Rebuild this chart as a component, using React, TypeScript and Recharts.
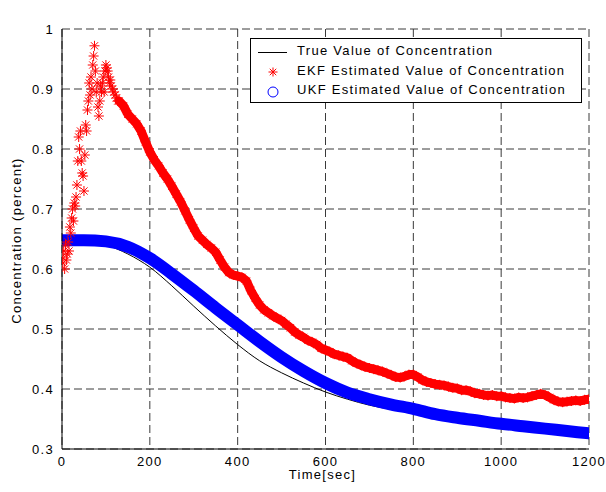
import React from 'react';
import { ComposedChart, Line, Scatter, XAxis, YAxis, CartesianGrid, Legend, Label } from 'recharts';

// ---- data ----
const xTicks = [0, 200, 400, 600, 800, 1000, 1200];
const yTicks = [0.3, 0.4, 0.5, 0.6, 0.7, 0.8, 0.9, 1];

const sampleTimes = [0, 50, 100, 150, 200, 250, 300, 350, 400, 450, 500, 550, 600, 650, 700, 750, 800, 850, 900, 950, 1000, 1050, 1100, 1150, 1200];
const trueValues = [0.648, 0.647, 0.64, 0.625, 0.603, 0.572, 0.538, 0.505, 0.474, 0.447, 0.427, 0.41, 0.395, 0.383, 0.373, 0.366, 0.36, 0.353, 0.348, 0.343, 0.339, 0.335, 0.331, 0.328, 0.324];
const ukfValues = [0.648, 0.648, 0.646, 0.637, 0.618, 0.592, 0.564, 0.535, 0.507, 0.479, 0.453, 0.43, 0.41, 0.394, 0.383, 0.374, 0.367, 0.358, 0.352, 0.347, 0.342, 0.338, 0.334, 0.33, 0.326];

// EKF early transient (scattered estimates)
const ekfEarly: [number, number][] = [
  [0, 0.62], [2, 0.61], [4, 0.63], [6, 0.6], [8, 0.64], [10, 0.615], [12, 0.625], [14, 0.645], [16, 0.63], [18, 0.67],
  [20, 0.66], [22, 0.685], [24, 0.7], [26, 0.68], [28, 0.71], [30, 0.705], [32, 0.72], [34, 0.74], [36, 0.78], [38, 0.82],
  [40, 0.8], [42, 0.83], [44, 0.78], [46, 0.76], [48, 0.755], [50, 0.73], [52, 0.79], [54, 0.84], [56, 0.83], [58, 0.865],
  [60, 0.88], [62, 0.91], [64, 0.89], [66, 0.92], [68, 0.9], [70, 0.94], [72, 0.955], [74, 0.972], [76, 0.93], [78, 0.895],
  [80, 0.91], [82, 0.87], [84, 0.855], [86, 0.88], [88, 0.905], [90, 0.895], [92, 0.91], [94, 0.92], [96, 0.895], [98, 0.93],
  [100, 0.94], [102, 0.935], [104, 0.93], [106, 0.92], [108, 0.91], [110, 0.915], [112, 0.905], [115, 0.9], [118, 0.895], [121, 0.89],
  [124, 0.885], [127, 0.88],
];

// EKF settled decay
const ekfMain: [number, number][] = [
  [130, 0.88], [140, 0.872], [150, 0.858], [160, 0.85], [170, 0.842], [180, 0.83], [190, 0.812], [200, 0.795], [210, 0.782], [220, 0.772],
  [230, 0.76], [240, 0.75], [250, 0.738], [260, 0.725], [270, 0.712], [280, 0.697], [290, 0.682], [300, 0.668], [310, 0.655], [320, 0.648],
  [330, 0.641], [340, 0.635], [350, 0.628], [360, 0.615], [370, 0.603], [380, 0.594], [390, 0.59], [400, 0.588], [410, 0.586], [420, 0.58],
  [430, 0.564], [440, 0.551], [450, 0.54], [460, 0.532], [470, 0.527], [480, 0.522], [490, 0.518], [500, 0.514], [510, 0.508], [520, 0.502],
  [530, 0.495], [540, 0.49], [550, 0.486], [560, 0.481], [570, 0.478], [580, 0.474], [590, 0.468], [600, 0.465], [610, 0.462], [620, 0.458],
  [630, 0.456], [640, 0.454], [650, 0.452], [660, 0.447], [670, 0.443], [680, 0.44], [690, 0.437], [700, 0.435], [710, 0.433], [720, 0.431],
  [730, 0.429], [740, 0.426], [750, 0.423], [760, 0.42], [770, 0.419], [780, 0.421], [790, 0.424], [800, 0.424], [810, 0.42], [820, 0.415],
  [830, 0.412], [840, 0.41], [850, 0.408], [860, 0.407], [870, 0.406], [880, 0.404], [890, 0.402], [900, 0.401], [910, 0.398], [920, 0.398],
  [930, 0.396], [940, 0.393], [950, 0.392], [960, 0.39], [970, 0.389], [980, 0.39], [990, 0.388], [1000, 0.388], [1010, 0.386], [1020, 0.385],
  [1030, 0.384], [1040, 0.386], [1050, 0.385], [1060, 0.386], [1070, 0.388], [1080, 0.39], [1090, 0.392], [1100, 0.39], [1110, 0.386], [1120, 0.382],
  [1130, 0.379], [1140, 0.378], [1150, 0.379], [1160, 0.38], [1170, 0.381], [1180, 0.38], [1190, 0.382], [1200, 0.383],
];

const legendNames = ['True Value of Concentration', 'EKF Estimated Value of Concentration', 'UKF Estimated Value of Concentration'];

// ---- derived tables ----
const trueData = sampleTimes.map((t, i) => ({ t, v: trueValues[i] }));
const ukfData = sampleTimes.map((t, i) => ({ t, v: ukfValues[i] }));
const ekfBandData = ekfMain.map(([t, v]) => ({ t, v }));
const ekfAllData = [...ekfEarly, ...ekfMain].map(([t, v]) => ({ t, v }));

const FONT = 'Arial, "Liberation Sans", Helvetica, sans-serif';
const TXT = { fontFamily: FONT, fontSize: 13, fill: '#000', letterSpacing: '1.3px' } as const;

const StarGlyph = ({ cx, cy, r = 4.5 }: { cx: number; cy: number; r?: number }) => {
  const d = r * 0.72;
  return (
    <g stroke="#ff0000" strokeWidth={1}>
      <line x1={cx - r} y1={cy} x2={cx + r} y2={cy} />
      <line x1={cx} y1={cy - r} x2={cx} y2={cy + r} />
      <line x1={cx - d} y1={cy - d} x2={cx + d} y2={cy + d} />
      <line x1={cx - d} y1={cy + d} x2={cx + d} y2={cy - d} />
    </g>
  );
};

const starShape = (props: any) => {
  if (props.cx == null || props.cy == null) return <g />;
  return <StarGlyph cx={props.cx} cy={props.cy} r={5} />;
};

const XTick = ({ x, y, payload }: any) => (
  <text x={x} y={y} dy={8.5} textAnchor="middle" style={TXT}>{payload.value}</text>
);
const YTick = ({ x, y, payload }: any) => (
  <text x={x} y={y} dy={4.5} textAnchor="end" style={TXT}>{payload.value}</text>
);

const LegendBox = () => (
  <svg width={334} height={66} style={{ display: 'block' }}>
    <rect x={0.5} y={0.5} width={331} height={64} fill="#fff" stroke="#000" strokeWidth={1} />
    <line x1={8} y1={14.5} x2={37} y2={14.5} stroke="#000" strokeWidth={1} />
    <text x={47} y={17} style={TXT}>{legendNames[0]}</text>
    <StarGlyph cx={23} cy={34} />
    <text x={47} y={37} style={TXT}>{legendNames[1]}</text>
    <circle cx={23} cy={54} r={5} fill="none" stroke="#0000ff" strokeWidth={1} />
    <text x={47} y={56.3} style={TXT}>{legendNames[2]}</text>
  </svg>
);

export default function App() {
  return (
    <div style={{ position: 'absolute', left: 0, top: 0, width: 606, height: 492, background: '#fff' }}>
      <ComposedChart width={606} height={492} margin={{ top: 29, right: 17, bottom: 0, left: 0 }}>
        <CartesianGrid stroke="#3a3a3a" strokeDasharray="8 4" strokeWidth={1} horizontalValues={yTicks} verticalValues={xTicks} />
        <XAxis
          dataKey="t"
          type="number"
          domain={[0, 1200]}
          ticks={xTicks}
          tick={<XTick />}
          tickLine={false}
          axisLine={{ stroke: '#000', strokeWidth: 1 }}
          height={43}
          allowDataOverflow
        >
          <Label
            content={({ viewBox }: any) => (
              <text x={viewBox.x + viewBox.width / 2 - 3} y={479} textAnchor="middle" style={TXT}>Time[sec]</text>
            )}
          />
        </XAxis>
        <XAxis
          xAxisId="top"
          orientation="top"
          type="number"
          domain={[0, 1200]}
          ticks={xTicks}
          tick={false}
          tickLine={false}
          axisLine={{ stroke: '#000', strokeWidth: 1 }}
          height={0}
        >
          <Label
            content={({ viewBox }: any) => (
              <text x={viewBox.x + viewBox.width / 2 - 4} y={16} textAnchor="middle" style={TXT}>Acetilene Concentration</text>
            )}
          />
        </XAxis>
        <YAxis
          type="number"
          domain={[0.3, 1]}
          ticks={yTicks}
          tick={<YTick />}
          tickLine={false}
          axisLine={{ stroke: '#000', strokeWidth: 1 }}
          width={62}
          allowDataOverflow
        >
          <Label
            content={({ viewBox }: any) => {
              const cx = 20.5;
              const cy = viewBox.y + viewBox.height / 2 + 1.5;
              return (
                <text x={cx} y={cy} transform={`rotate(-90 ${cx} ${cy})`} textAnchor="middle" style={TXT}>Concentration (percent)</text>
              );
            }}
          />
        </YAxis>
        <YAxis
          yAxisId="right"
          orientation="right"
          type="number"
          domain={[0.3, 1]}
          ticks={yTicks}
          tick={false}
          tickLine={false}
          axisLine={{ stroke: '#000', strokeWidth: 1 }}
          width={0}
        />
        <Line data={trueData} dataKey="v" type="monotone" stroke="#000" strokeWidth={1} dot={false} isAnimationActive={false} name={legendNames[0]} />
        <Line data={ekfBandData} dataKey="v" type="linear" stroke="#ff0000" strokeWidth={9} strokeLinejoin="round" strokeLinecap="round" dot={false} isAnimationActive={false} legendType="none" />
        <Scatter data={ekfAllData} dataKey="v" fill="#ff0000" shape={starShape} isAnimationActive={false} name={legendNames[1]} />
        <Line data={ukfData} dataKey="v" type="monotone" stroke="#0000ff" strokeWidth={12} strokeLinecap="round" strokeLinejoin="round" dot={false} isAnimationActive={false} name={legendNames[2]} />
        <Legend
          layout="horizontal"
          verticalAlign="middle"
          align="center"
          content={() => <LegendBox />}
          wrapperStyle={{ position: 'absolute', left: 250, top: 38, width: 334, height: 66, margin: 0, padding: 0 }}
        />
      </ComposedChart>
    </div>
  );
}
